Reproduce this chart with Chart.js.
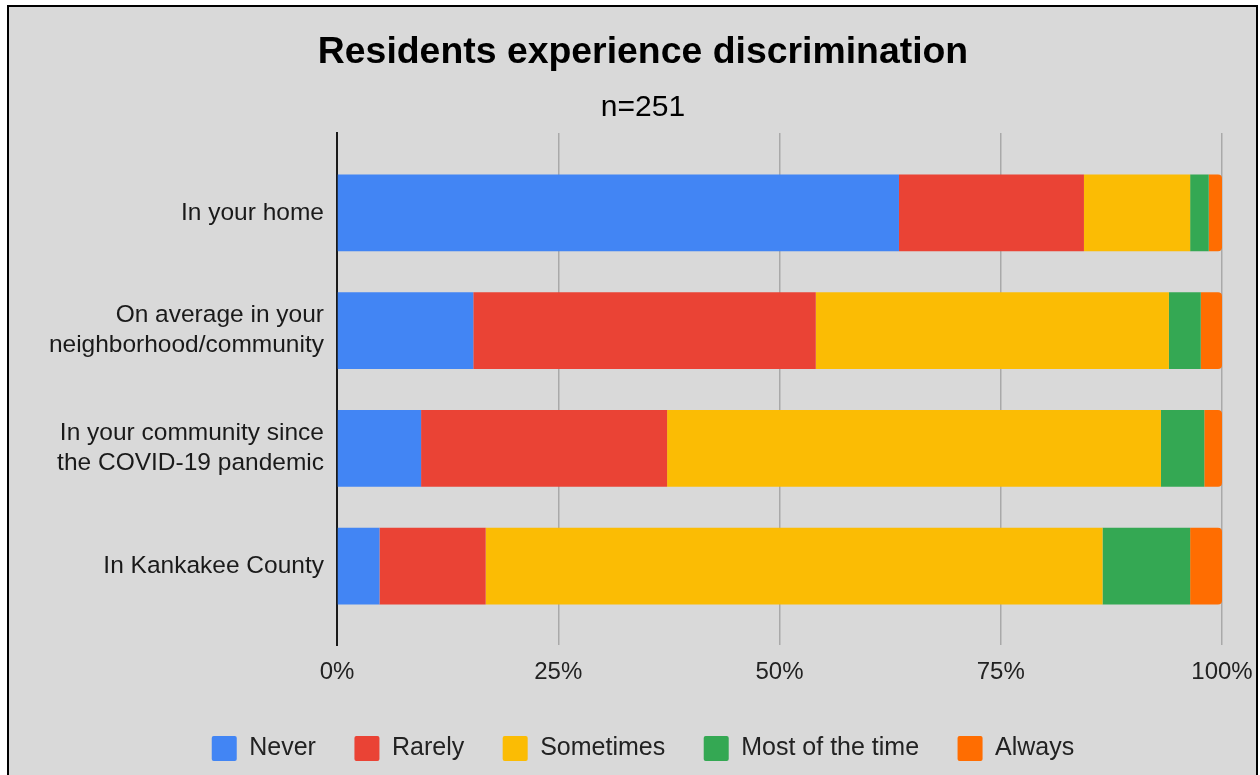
<!DOCTYPE html>
<html>
<head>
<meta charset="utf-8">
<title>Residents experience discrimination</title>
<script src="https://cdn.jsdelivr.net/npm/chart.js@4.4.1/dist/chart.umd.min.js"></script>
<style>
  html, body { margin: 0; padding: 0; background: #fff; overflow: hidden; }
  #frame {
    position: absolute; left: 7px; top: 5px; width: 1251px; height: 800px;
    border: 2.5px solid #000; box-sizing: border-box; background: #d9d9d9;
  }
  #wrap { position: absolute; left: 0; top: 0; width: 1260px; height: 775px; }
</style>
</head>
<body>
<div id="frame"></div>
<div id="wrap"><canvas id="chart" width="1260" height="775"></canvas></div>
<script>
// rows, top to bottom
const rowLabels = [
  ["In your home"],
  ["On average in your", "neighborhood/community"],
  ["In your community since", "the COVID-19 pandemic"],
  ["In Kankakee County"]
];

// percent of respondents per answer
const never     = [63.5, 15.4,  9.5,  4.8];
const rarely    = [20.9, 38.7, 27.8, 12.0];
const sometimes = [12.0, 39.9, 55.8, 69.7];
const mostTime  = [ 2.1,  3.6,  4.9,  9.9];
const always    = [ 1.5,  2.4,  2.0,  3.6];

const seriesNames  = ["Never", "Rarely", "Sometimes", "Most of the time", "Always"];
const seriesColors = ["#4285f4", "#ea4335", "#fbbc04", "#34a853", "#ff6d01"];
const xTicks = [0, 25, 50, 75, 100];

const FONT = "'Liberation Sans', Arial, sans-serif";

/**
 * turn one value array into {x, y} points on the row index
 */
function toPoints(arr) {
  return arr.map((v, i) => ({ x: v, y: i }));
}

function buildDatasets() {
  const arrSeries = [never, rarely, sometimes, mostTime, always];
  return arrSeries.map((arr, i) => {
    const isLast = i === arrSeries.length - 1;
    return {
      label: seriesNames[i],
      data: toPoints(arr),
      backgroundColor: seriesColors[i],
      borderWidth: 0,
      borderRadius: isLast ? 4 : 0,
      borderSkipped: "start",
      stack: "all",
      barPercentage: 0.651,
      categoryPercentage: 1
    };
  });
}

Chart.defaults.font.family = FONT;

const ctx = document.getElementById("chart");
new Chart(ctx, {
  type: "bar",
  data: { datasets: buildDatasets() },
  options: {
    indexAxis: "y",
    responsive: false,
    animation: false,
    layout: { padding: { left: 45, right: 19, top: 0, bottom: 4 } },
    plugins: {
      title: {
        display: true,
        text: "Residents experience discrimination",
        color: "#000",
        font: { size: 37.4, weight: "bold" },
        padding: { top: 30, bottom: 0 }
      },
      subtitle: {
        display: true,
        text: "n=251",
        color: "#000",
        font: { size: 30, weight: "normal" },
        padding: { top: 15, bottom: 7 }
      },
      legend: {
        position: "bottom",
        labels: {
          color: "#222",
          font: { size: 25 },
          boxWidth: 25,
          boxHeight: 25,
          padding: 38.5,
          useBorderRadius: true,
          borderRadius: 2
        }
      },
      tooltip: { enabled: false }
    },
    scales: {
      x: {
        type: "linear",
        stacked: true,
        min: 0,
        max: 100,
        afterBuildTicks: (s) => { s.ticks = xTicks.map((v) => ({ value: v })); },
        afterFit: (s) => {
          s.height = 52.5;
          s.paddingRight = 38;
        },
        ticks: {
          color: "#222",
          font: { size: 24 },
          padding: 0,
          callback: (v) => v + "%"
        },
        grid: {
          drawTicks: true,
          tickLength: 13,
          tickColor: "rgba(0,0,0,0)",
          lineWidth: 1.5,
          color: (c) => (c.tick && c.tick.value === 0 ? "rgba(0,0,0,0)" : "#a9a9a9")
        },
        border: { display: false }
      },
      y: {
        type: "linear",
        stacked: true,
        reverse: true,
        offset: false,
        min: -0.68,
        max: 3.67,
        afterBuildTicks: (s) => { s.ticks = rowLabels.map((_, i) => ({ value: i })); },
        afterFit: (s) => { s.width = 292; },
        ticks: {
          color: "#1a1a1a",
          font: { size: 24.5, lineHeight: 1.225 },
          padding: 13,
          callback: (v) => rowLabels[v]
        },
        grid: { display: false, drawTicks: false, offset: false },
        border: { display: true, color: "#1a1a1a", width: 2 }
      }
    }
  }
});
</script>
</body>
</html>
